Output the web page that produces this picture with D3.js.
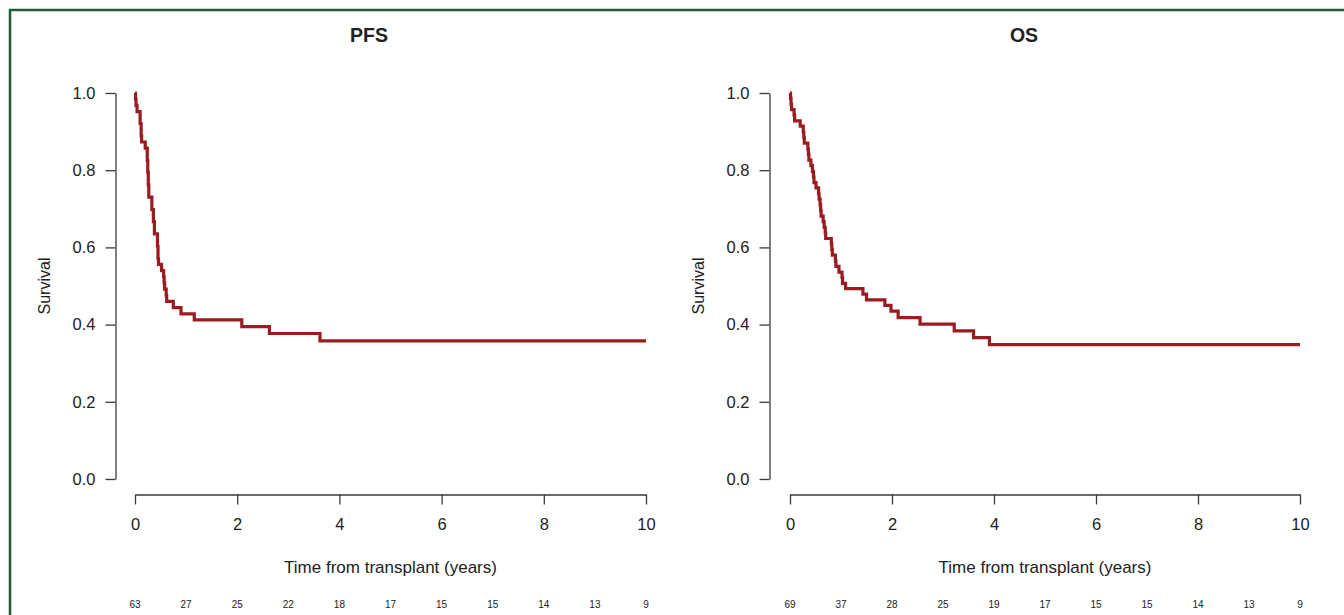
<!DOCTYPE html>
<html>
<head>
<meta charset="utf-8">
<script src="https://cdn.jsdelivr.net/npm/d3@7"></script>
<style>
  html, body { margin: 0; padding: 0; background: #fff; }
  svg { display: block; font-family: "Liberation Sans", Arial, Helvetica, sans-serif; }
</style>
</head>
<body>
<svg id="chart" width="1344" height="615"></svg>
<script>
// ---------- data ----------
const panelTitles = ["PFS", "OS"];
const xTickValues = [0, 2, 4, 6, 8, 10];
const yTickValues = [0, 0.2, 0.4, 0.6, 0.8, 1.0];
const atRiskTimes = [0, 1, 2, 3, 4, 5, 6, 7, 8, 9, 10];

// PFS step curve: event times (years) and survival after each event
const pfsTimes = [0.01, 0.02, 0.04, 0.10, 0.12, 0.13, 0.20, 0.24, 0.25, 0.26, 0.27,
                  0.33, 0.36, 0.38, 0.44, 0.45, 0.46, 0.52, 0.56, 0.57, 0.58, 0.61, 0.62,
                  0.75, 0.90, 1.16, 2.09, 2.63, 3.62];
const pfsSurv  = [0.984, 0.968, 0.952, 0.921, 0.889, 0.873, 0.857, 0.825, 0.794, 0.762, 0.730,
                  0.698, 0.667, 0.635, 0.603, 0.571, 0.556, 0.540, 0.524, 0.508, 0.492, 0.476, 0.460,
                  0.444, 0.428, 0.412, 0.395, 0.377, 0.358];
const pfsAtRisk = [63, 27, 25, 22, 18, 17, 15, 15, 14, 13, 9];

// OS step curve
const osTimes = [0.01, 0.02, 0.03, 0.08, 0.09, 0.20, 0.26, 0.27, 0.28, 0.35, 0.36, 0.37,
                 0.41, 0.44, 0.46, 0.47, 0.51, 0.56, 0.57, 0.59, 0.60, 0.61, 0.65, 0.67,
                 0.69, 0.70, 0.81, 0.82, 0.83, 0.89, 0.90, 0.96, 1.02, 1.03, 1.09, 1.43,
                 1.50, 1.86, 1.98, 2.12, 2.55, 3.22, 3.60, 3.91];
const osSurv  = [0.986, 0.971, 0.957, 0.943, 0.928, 0.914, 0.899, 0.885, 0.870, 0.855, 0.841, 0.826,
                 0.812, 0.797, 0.783, 0.768, 0.754, 0.739, 0.725, 0.710, 0.696, 0.681, 0.667, 0.652,
                 0.638, 0.623, 0.609, 0.594, 0.580, 0.565, 0.551, 0.536, 0.522, 0.507, 0.493, 0.479,
                 0.464, 0.450, 0.435, 0.418, 0.401, 0.384, 0.366, 0.348];
const osAtRisk = [69, 37, 28, 25, 19, 17, 15, 15, 14, 13, 9];

const xMax = 10;
const curveColor = "#9b1c20";
const axisColor = "#3a3a3a";
const textColor = "#222";

// ---------- drawing ----------
const svg = d3.select("#chart");

svg.append("rect")
  .attr("x", 10).attr("y", 10)
  .attr("width", 1345).attr("height", 620)
  .attr("fill", "none")
  .attr("stroke", "#1c5b34")
  .attr("stroke-width", 2.5);

const panels = [
  { title: panelTitles[0], times: pfsTimes, surv: pfsSurv, risk: pfsAtRisk, x0: 135, x1: 646, yAxisX: 115.5, titleX: 369 },
  { title: panelTitles[1], times: osTimes,  surv: osSurv,  risk: osAtRisk,  x0: 790, x1: 1300, yAxisX: 769.5, titleX: 1024 }
];

const yTop = 93, yBottom = 479, xAxisY = 494.5;

panels.forEach(p => {
  const x = d3.scaleLinear().domain([0, xMax]).range([p.x0, p.x1]);
  const y = d3.scaleLinear().domain([0, 1]).range([yBottom, yTop]);
  const g = svg.append("g");

  // title
  g.append("text")
    .attr("x", p.titleX).attr("y", 42)
    .attr("text-anchor", "middle")
    .attr("font-size", 19.5).attr("font-weight", "bold")
    .attr("fill", textColor)
    .text(p.title);

  // y axis
  const yAxis = d3.axisLeft(y).tickValues(yTickValues).tickFormat(d3.format(".1f"))
    .tickSize(10).tickSizeOuter(0).tickPadding(10);
  const ya = g.append("g").attr("transform", `translate(${p.yAxisX},0)`).call(yAxis);
  ya.select(".domain").attr("stroke", axisColor).attr("stroke-width", 1.3);
  ya.selectAll(".tick line").attr("stroke", axisColor).attr("stroke-width", 1.3);
  ya.selectAll(".tick text").attr("font-size", 16.5).attr("fill", textColor)
    .attr("font-family", "Liberation Sans, Arial, sans-serif");

  // y label
  g.append("text")
    .attr("transform", `translate(${p.yAxisX - 66},${(yTop + yBottom) / 2}) rotate(-90)`)
    .attr("text-anchor", "middle")
    .attr("font-size", 16).attr("fill", textColor)
    .text("Survival");

  // x axis
  const xAxis = d3.axisBottom(x).tickValues(xTickValues).tickFormat(d3.format("d"))
    .tickSize(10).tickSizeOuter(0).tickPadding(14);
  const xa = g.append("g").attr("transform", `translate(0,${xAxisY})`).call(xAxis);
  xa.select(".domain").attr("stroke", axisColor).attr("stroke-width", 1.3);
  xa.selectAll(".tick line").attr("stroke", axisColor).attr("stroke-width", 1.3);
  xa.selectAll(".tick text").attr("font-size", 16.5).attr("fill", textColor)
    .attr("font-family", "Liberation Sans, Arial, sans-serif");

  // x label
  g.append("text")
    .attr("x", (p.x0 + p.x1) / 2).attr("y", 573)
    .attr("text-anchor", "middle")
    .attr("font-size", 17).attr("fill", textColor)
    .text("Time from transplant (years)");

  // numbers at risk
  g.selectAll("text.risk").data(atRiskTimes).enter().append("text")
    .attr("class", "risk")
    .attr("x", d => x(d)).attr("y", 608)
    .attr("text-anchor", "middle")
    .attr("font-size", 10).attr("fill", textColor)
    .text((d, i) => p.risk[i]);

  // survival curve
  const pts = [[0, 1]];
  p.times.forEach((t, i) => pts.push([t, p.surv[i]]));
  pts.push([xMax, p.surv[p.surv.length - 1]]);
  const line = d3.line().x(d => x(d[0])).y(d => y(d[1])).curve(d3.curveStepAfter);
  g.append("path")
    .attr("d", line(pts))
    .attr("fill", "none")
    .attr("stroke", curveColor)
    .attr("stroke-width", 3.2);
});
</script>
</body>
</html>
